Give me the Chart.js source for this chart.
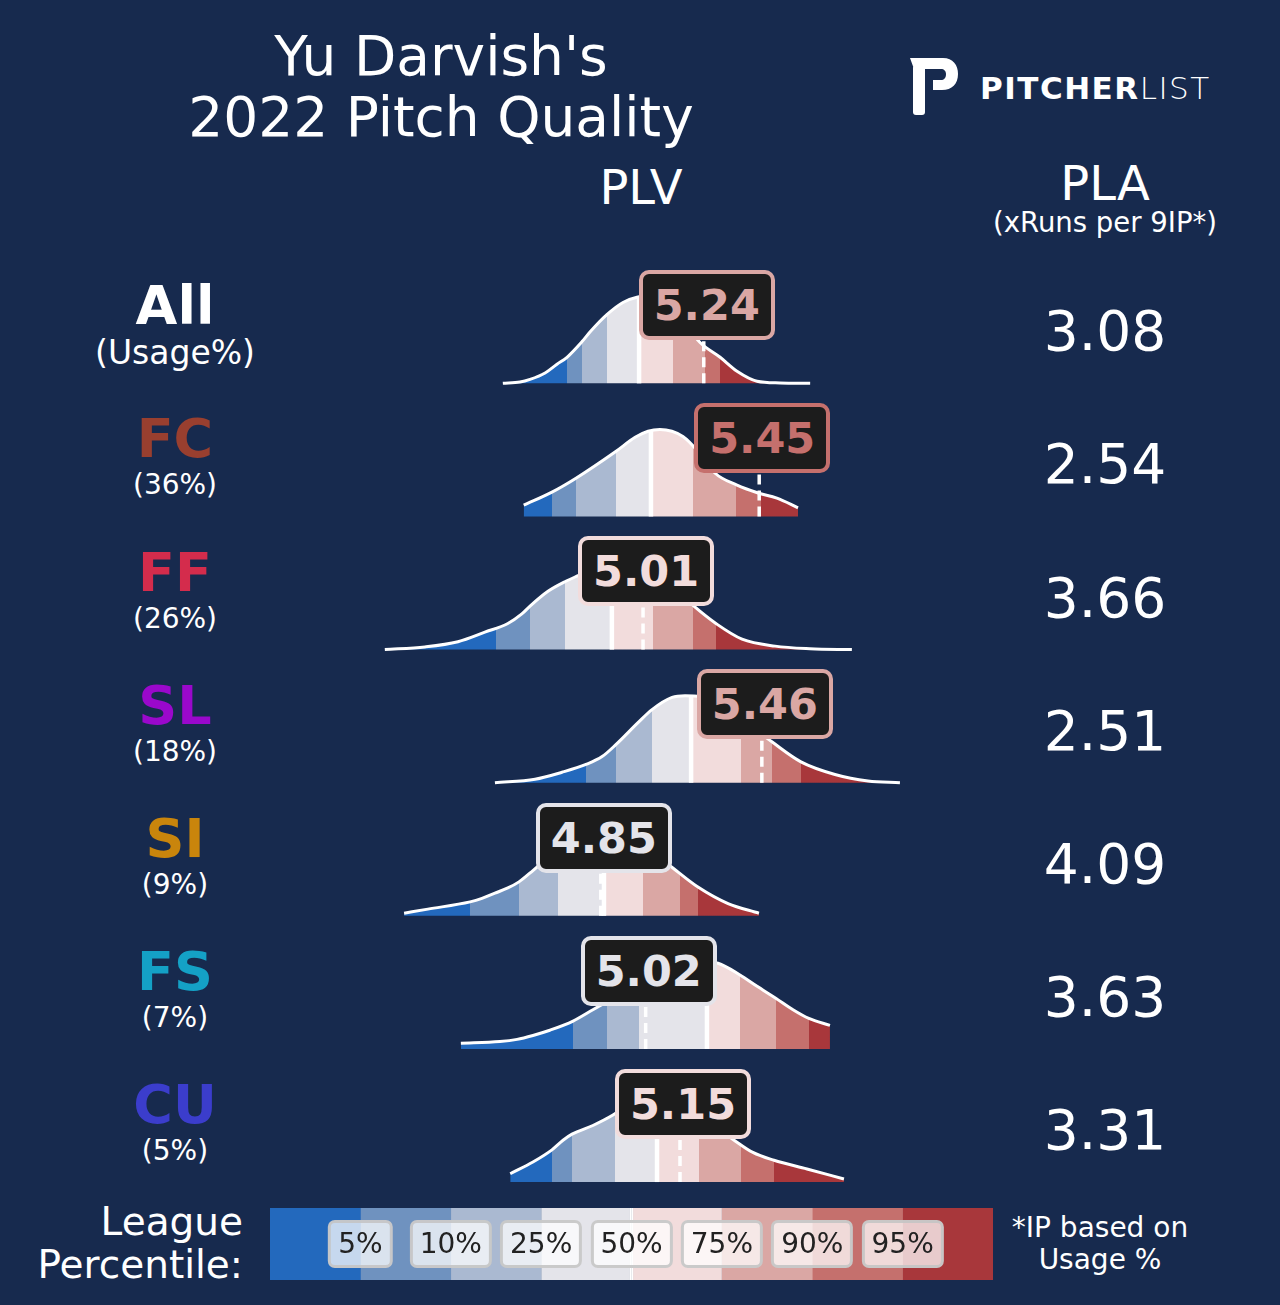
<!DOCTYPE html>
<html>
<head>
<meta charset="utf-8">
<script src="https://cdn.jsdelivr.net/npm/chart.js@4.4.1/dist/chart.umd.min.js"></script>
<style>
  html, body { margin: 0; padding: 0; background: #172a4e; }
  #page { position: relative; width: 1280px; height: 1305px; overflow: hidden; background: #172a4e;
          font-family: 'DejaVu Sans', sans-serif; color: #fff; }
  .t { position: absolute; white-space: nowrap; line-height: 1; transform: translate(-50%, -50%); }
  #main { position: absolute; left: 280px; top: 260px; }
  #legend { position: absolute; left: 270px; top: 1208px; }
  .plv { position: absolute; box-sizing: border-box; width: 136px; height: 70px; border: 4px solid; border-radius: 10px;
         background: #1c1c1c; font-weight: bold; font-size: 43px; display: flex; align-items: center;
         justify-content: center; transform: translate(-50%, -50%); }
  .pct { position: absolute; transform: translate(-50%, -50%); font-size: 28px; color: #222; white-space: nowrap;
         background: rgba(255,255,255,0.74); border: 3px solid rgba(196,196,196,0.9); border-radius: 7px;
         padding: 4px 7px; line-height: 34px; }
</style>
</head>
<body>
<div id="page">
  <div class="t" style="left:441px;top:56px;font-size:55px">Yu Darvish's</div>
  <div class="t" style="left:441px;top:117px;font-size:55px">2022 Pitch Quality</div>
  <div class="t" style="left:641px;top:187px;font-size:48px">PLV</div>
  <div class="t" style="left:1105px;top:183px;font-size:48px">PLA</div>
  <div class="t" style="left:1105px;top:223px;font-size:27.5px">(xRuns per 9IP*)</div>

  <svg style="position:absolute;left:910px;top:58px" width="50" height="58" viewBox="0 0 50 58">
    <path fill="#fff" d="M0,0 L33,0 C43,0 48,7 48,16 C48,26 42,32 32,32 L23,32 L23,22 L31,22 C34,22 36,20 36,16 C36,13 34,11 31,11 L4,11 Z"/>
    <path fill="#fff" d="M3,9 L15,11 L15,54 Q15,57 12,57 L6,57 Q3,57 3,54 Z"/>
  </svg>
  <div style="position:absolute;left:980px;top:73px;font-size:31px;line-height:31px;letter-spacing:1.5px;white-space:nowrap">
    <span style="font-weight:bold">PITCHER</span><span style="font-weight:200">LIST</span>
  </div>

  <div style="position:absolute;right:1037px;top:1200px;text-align:right;font-size:39px;line-height:43px">League<br>Percentile:</div>
  <div style="position:absolute;left:1100px;top:1212px;transform:translateX(-50%);text-align:center;font-size:28px;line-height:32px;white-space:nowrap">*IP based on<br>Usage %</div>

  <canvas id="main" width="720" height="935"></canvas>
  <canvas id="legend" width="723" height="72"></canvas>
</div>

<script>
const pitchTypes  = ['All', 'FC', 'FF', 'SL', 'SI', 'FS', 'CU'];
const pitchColors = ['#ffffff', '#993f2f', '#d42c4c', '#9a08cc', '#c9850c', '#14a1c6', '#3b3dcc'];
const usageLabels = ['(Usage%)', '(36%)', '(26%)', '(18%)', '(9%)', '(7%)', '(5%)'];
const plvValues   = [5.24, 5.45, 5.01, 5.46, 4.85, 5.02, 5.15];
const plaValues   = [3.08, 2.54, 3.66, 2.51, 4.09, 3.63, 3.31];

const percentileTicks = ['5%', '10%', '25%', '50%', '75%', '90%', '95%'];
const legendBands = [1, 1, 1, 1, 1, 1, 1, 1];
const bandColors = ['#2369bd', '#6f92bf', '#aab9d1', '#e4e4ea', '#f2dcdc', '#daa7a4', '#c5706d', '#a8373b'];

// league percentile cutoffs (5,10,25,50,75,90,95) per pitch, in PLV
const cutsAll = [4.722, 4.779, 4.873, 4.995, 5.123, 5.245, 5.301];
const cutsFC  = [4.665, 4.756, 4.908, 5.040, 5.199, 5.362, 5.457];
const cutsFF  = [4.453, 4.582, 4.714, 4.892, 5.048, 5.199, 5.286];
const cutsSL  = [4.794, 4.908, 5.044, 5.192, 5.381, 5.498, 5.608];
const cutsSI  = [4.355, 4.540, 4.688, 4.862, 5.010, 5.150, 5.218];
const cutsFS  = [4.745, 4.873, 4.995, 5.252, 5.377, 5.514, 5.638];
const cutsCU  = [4.665, 4.741, 4.904, 5.063, 5.222, 5.381, 5.506];

// league density curves (scaled so the peak is 1)
const xsAll = [4.479, 4.544, 4.582, 4.639, 4.684, 4.722, 4.779, 4.809, 4.873, 4.934, 4.987, 5.029, 5.074, 5.150, 5.226, 5.302, 5.366, 5.442, 5.529, 5.643];
const dsAll = [0, 0.015, 0.046, 0.12, 0.22, 0.30, 0.48, 0.59, 0.79, 0.93, 0.99, 1.0, 0.95, 0.76, 0.47, 0.30, 0.14, 0.025, 0.005, 0];
const xsFC  = [4.558, 4.665, 4.756, 4.908, 4.980, 5.029, 5.074, 5.161, 5.226, 5.282, 5.366, 5.446, 5.517, 5.597];
const dsFC  = [0.13, 0.28, 0.44, 0.75, 0.91, 0.98, 1.0, 0.92, 0.72, 0.50, 0.36, 0.27, 0.21, 0.10];
const xsFF  = [4.032, 4.184, 4.309, 4.411, 4.498, 4.551, 4.582, 4.650, 4.714, 4.764, 4.847, 4.923, 5.017, 5.112, 5.206, 5.286, 5.385, 5.510, 5.642, 5.801];
const dsFF  = [0, 0.03, 0.09, 0.20, 0.30, 0.41, 0.50, 0.67, 0.78, 0.85, 0.96, 1.0, 0.94, 0.75, 0.49, 0.30, 0.12, 0.04, 0.01, 0];
const xsSL  = [4.449, 4.601, 4.703, 4.794, 4.855, 4.908, 4.991, 5.044, 5.120, 5.169, 5.226, 5.302, 5.396, 5.498, 5.608, 5.737, 5.862, 5.983];
const dsSL  = [0, 0.04, 0.12, 0.21, 0.30, 0.44, 0.69, 0.84, 0.98, 1.0, 0.99, 0.90, 0.70, 0.47, 0.24, 0.095, 0.02, 0];
const xsSI  = [4.105, 4.195, 4.355, 4.400, 4.449, 4.498, 4.540, 4.593, 4.677, 4.764, 4.858, 4.942, 5.036, 5.123, 5.218, 5.332, 5.449];
const dsSI  = [0.03, 0.077, 0.16, 0.20, 0.26, 0.32, 0.39, 0.52, 0.74, 0.92, 1.0, 0.95, 0.76, 0.55, 0.33, 0.14, 0.03];
const xsFS  = [4.320, 4.468, 4.533, 4.593, 4.657, 4.745, 4.820, 4.923, 5.036, 5.150, 5.245, 5.294, 5.377, 5.442, 5.514, 5.578, 5.638, 5.718];
const dsFS  = [0.065, 0.085, 0.11, 0.155, 0.215, 0.32, 0.45, 0.63, 0.82, 0.96, 1.0, 0.985, 0.85, 0.72, 0.58, 0.45, 0.35, 0.27];
const xsCU  = [4.507, 4.593, 4.665, 4.707, 4.741, 4.820, 4.896, 4.960, 5.055, 5.150, 5.245, 5.351, 5.426, 5.506, 5.631, 5.771];
const dsCU  = [0.095, 0.23, 0.37, 0.48, 0.55, 0.65, 0.77, 0.90, 1.0, 0.93, 0.72, 0.49, 0.34, 0.25, 0.15, 0.035];

const rowCuts = [cutsAll, cutsFC, cutsFF, cutsSL, cutsSI, cutsFS, cutsCU];
const rowXs   = [xsAll, xsFC, xsFF, xsSL, xsSI, xsFS, xsCU];
const rowDs   = [dsAll, dsFC, dsFF, dsSL, dsSI, dsFS, dsCU];

const ROW_GAP = 1.53;
const MAIN_LEFT = 280, MAIN_TOP = 260;
const rowOffset = i => (pitchTypes.length - 1 - i) * ROW_GAP;

function bandIndex(cuts, v) {
  return cuts.filter(c => c < v).length;
}

function heightAt(xs, ds, v) {
  for (let j = 1; j < xs.length; j++) {
    if (v <= xs[j]) {
      const t = (v - xs[j - 1]) / (xs[j] - xs[j - 1]);
      return ds[j - 1] + t * (ds[j] - ds[j - 1]);
    }
  }
  return 0;
}

function bandFill(chart, cuts) {
  const area = chart.chartArea;
  if (!area) return 'transparent';
  const sx = chart.scales.x;
  const w = area.right - area.left;
  const g = chart.ctx.createLinearGradient(area.left, 0, area.right, 0);
  const clamp = v => Math.min(1, Math.max(0, v));
  let prev = 0;
  bandColors.forEach((col, k) => {
    const end = k < cuts.length ? (sx.getPixelForValue(cuts[k]) - area.left) / w : 1;
    g.addColorStop(clamp(prev), col);
    g.addColorStop(clamp(end), col);
    prev = end;
  });
  return g;
}

const datasets = [];
pitchTypes.forEach((p, i) => {
  const off = rowOffset(i);
  const xs = rowXs[i], ds = rowDs[i], cuts = rowCuts[i];
  datasets.push({
    label: p,
    data: xs.map((x, j) => ({x: x, y: off + ds[j]})),
    borderColor: '#ffffff',
    borderWidth: 3,
    cubicInterpolationMode: 'monotone',
    fill: {value: off},
    backgroundColor: c => bandFill(c.chart, cuts),
    pointRadius: 0,
    order: 2
  });
  datasets.push({
    label: p + ' median',
    data: [{x: cuts[3], y: off}, {x: cuts[3], y: off + heightAt(xs, ds, cuts[3])}],
    borderColor: '#ffffff',
    borderWidth: 4.5,
    fill: false,
    pointRadius: 0,
    order: 1
  });
  datasets.push({
    label: p + ' PLV',
    data: [{x: plvValues[i], y: off}, {x: plvValues[i], y: off + 0.88}],
    borderColor: '#ffffff',
    borderWidth: 3.5,
    borderDash: [10, 6],
    fill: false,
    pointRadius: 0,
    order: 0
  });
});

const chartMain = new Chart(document.getElementById('main'), {
  type: 'line',
  data: {datasets: datasets},
  options: {
    responsive: false,
    animation: false,
    events: [],
    layout: {padding: 0, autoPadding: false},
    plugins: {legend: {display: false}, tooltip: {enabled: false}},
    scales: {
      x: {type: 'linear', min: 3.635, max: 6.362, display: false},
      y: {type: 'linear', min: -0.149, max: 10.598, display: false}
    }
  }
});

const chartLegend = new Chart(document.getElementById('legend'), {
  type: 'bar',
  data: {
    labels: [''],
    datasets: legendBands.map((b, k) => ({
      data: [b],
      backgroundColor: bandColors[k],
      borderColor: '#ffffff',
      borderSkipped: false,
      borderWidth: k === 3 ? {right: 2, left: 0, top: 0, bottom: 0} : (k === 4 ? {left: 2, right: 0, top: 0, bottom: 0} : 0),
      barPercentage: 1,
      categoryPercentage: 1
    }))
  },
  options: {
    indexAxis: 'y',
    responsive: false,
    animation: false,
    events: [],
    layout: {padding: 0, autoPadding: false},
    plugins: {legend: {display: false}, tooltip: {enabled: false}},
    scales: {
      x: {stacked: true, display: false, min: 0, max: legendBands.length},
      y: {stacked: true, display: false}
    }
  }
});

// text placed from the chart scales
const page = document.getElementById('page');
function addDiv(cls, style, text) {
  const d = document.createElement('div');
  d.className = cls;
  Object.assign(d.style, style);
  d.textContent = text;
  page.appendChild(d);
  return d;
}

const sx = chartMain.scales.x, sy = chartMain.scales.y;
pitchTypes.forEach((p, i) => {
  const off = rowOffset(i);
  const base = MAIN_TOP + sy.getPixelForValue(off);
  addDiv('t', {left: '175px', top: (base - 77) + 'px', fontSize: '54px', fontWeight: 'bold', color: pitchColors[i]}, p);
  addDiv('t', {left: '175px', top: (base - 31) + 'px', fontSize: i === 0 ? '33px' : '28px'}, usageLabels[i]);
  addDiv('t', {left: '1105px', top: (base - 52) + 'px', fontSize: '55px'}, plaValues[i].toFixed(2));
  const col = bandColors[bandIndex(rowCuts[i], plvValues[i])];
  addDiv('plv', {
    left: (MAIN_LEFT + sx.getPixelForValue(plvValues[i]) + 3) + 'px',
    top: (MAIN_TOP + sy.getPixelForValue(off + 0.9)) + 'px',
    borderColor: col, color: col
  }, plvValues[i].toFixed(2));
});

const lx = chartLegend.scales.x;
percentileTicks.forEach((t, k) => {
  addDiv('pct', {left: (270 + lx.getPixelForValue(k + 1)) + 'px', top: '1244px'}, t);
});
</script>
</body>
</html>
